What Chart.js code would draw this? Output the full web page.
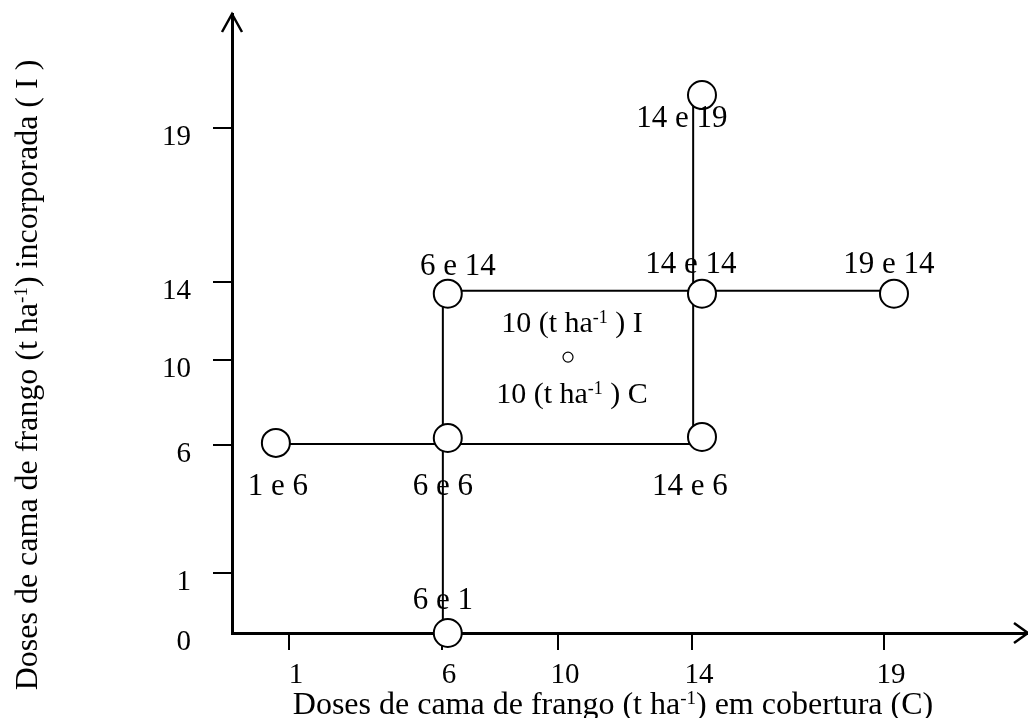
<!DOCTYPE html>
<html>
<head>
<meta charset="utf-8">
<script src="https://cdn.jsdelivr.net/npm/chart.js@4"></script>
<style>
  html, body { margin: 0; padding: 0; background: #fff; overflow: hidden; }
  #wrap { width: 1028px; height: 718px; position: relative; }
</style>
</head>
<body>
<div id="wrap"><canvas id="chart"></canvas></div>
<script>
/* ===== DATA ===== */
const ticksC = [1, 6, 10, 14, 19];
const ticksI = [0, 1, 6, 10, 14, 19];

const treatLabels = ["1 e 6", "6 e 6", "14 e 6", "6 e 14", "14 e 14", "19 e 14", "14 e 19", "6 e 1"];
const treatC = [0.77, 6.2, 14.26, 6.2, 14.26, 19.26, 14.26, 6.2];
const treatI = [6.1, 6.33, 6.38, 13.4, 13.4, 13.4, 20.07, 0];

const centreC = [10.3];
const centreI = [10.15];
const centreLabels = ["10 (t ha^{-1} ) I", "10 (t ha^{-1} ) C"];

// connecting lines, start/end of each segment
const segC = [[0.77, 14.26], [6.2, 19.26], [6.03, 6.03], [14.03, 14.03]];
const segI = [[6.05, 6.05], [13.55, 13.55], [13.4, 0], [20.07, 6.38]];

const titleC = "Doses de cama de frango (t ha^{-1}) em cobertura (C)";
const titleI = "Doses de cama de frango (t ha^{-1}) incorporada ( I )";

/* ===== SCALE (axis is drawn unevenly spaced in the figure) ===== */
class StepScale extends Chart.LinearScale {
  decimalFor(v) {
    const s = this.options.stops;
    let i = 1;
    while (i < s.length - 1 && v > s[i][0]) i++;
    const [v0, d0] = s[i - 1], [v1, d1] = s[i];
    return d0 + (v - v0) / (v1 - v0) * (d1 - d0);
  }
  getPixelForValue(v) {
    if (v === null || isNaN(v)) return NaN;
    return this.getPixelForDecimal(this.decimalFor(v));
  }
  getValueForPixel(p) {
    const d = this.getDecimalForPixel(p);
    const s = this.options.stops;
    let i = 1;
    while (i < s.length - 1 && d > s[i][1]) i++;
    const [v0, d0] = s[i - 1], [v1, d1] = s[i];
    return v0 + (d - d0) / (d1 - d0) * (v1 - v0);
  }
}
StepScale.id = "step";
StepScale.defaults = {};
Chart.register(StepScale);

const FONT = "'Liberation Serif', 'Times New Roman', serif";

// text with ^{...} superscripts
function richText(ctx, str, x, y, size, align) {
  const parts = str.split(/\^\{([^}]*)\}/);
  const sup = Math.round(size * 0.6);
  let w = 0;
  parts.forEach((p, i) => {
    ctx.font = (i % 2 ? sup : size) + "px " + FONT;
    w += ctx.measureText(p).width;
  });
  let cx = align === "center" ? x - w / 2 : x;
  ctx.textAlign = "left";
  ctx.textBaseline = "alphabetic";
  parts.forEach((p, i) => {
    const s = i % 2 === 1;
    ctx.font = (s ? sup : size) + "px " + FONT;
    ctx.fillText(p, cx, s ? y - size * 0.3 : y);
    cx += ctx.measureText(p).width;
  });
  return w;
}

const labelOffsets = [[2, 52], [-5, 57], [-12, 58], [10, -19], [-11, -21], [-5, -21], [-20, 32], [-5, -24]];

const noPad = s => { s.paddingTop = 0; s.paddingBottom = 0; s.paddingLeft = 0; s.paddingRight = 0; };

const decor = {
  id: "decor",
  afterDraw(chart) {
    const { ctx, chartArea: a, scales: { x, y } } = chart;
    ctx.save();
    ctx.fillStyle = "#000";
    ctx.strokeStyle = "#000";

    // arrow heads
    ctx.lineWidth = 2.5;
    ctx.beginPath();
    ctx.moveTo(a.left - 10, a.top + 18);
    ctx.lineTo(a.left, a.top);
    ctx.lineTo(a.left + 10, a.top + 18);
    ctx.moveTo(a.right - 14, a.bottom - 10);
    ctx.lineTo(a.right, a.bottom);
    ctx.lineTo(a.right - 14, a.bottom + 10);
    ctx.stroke();

    // point labels
    treatLabels.forEach((t, i) => {
      const px = x.getPixelForValue(treatC[i]) + labelOffsets[i][0];
      const py = y.getPixelForValue(treatI[i]) + labelOffsets[i][1];
      richText(ctx, t, px, py, 31, "center");
    });

    // centre point labels
    const cx = x.getPixelForValue(centreC[0]);
    const cy = y.getPixelForValue(centreI[0]);
    richText(ctx, centreLabels[0], cx + 4, cy - 25, 30, "center");
    richText(ctx, centreLabels[1], cx + 4, cy + 46, 30, "center");

    // axis titles
    richText(ctx, titleC, 613, 714, 32, "center");
    ctx.translate(37, 375);
    ctx.rotate(-Math.PI / 2);
    richText(ctx, titleI, 0, 0, 32, "center");
    ctx.restore();
  }
};

/* ===== DATASETS ===== */
const datasets = [
  {
    data: treatC.map((c, i) => ({ x: c, y: treatI[i] })),
    pointRadius: 14,
    pointBackgroundColor: "#fff",
    pointBorderColor: "#000",
    pointBorderWidth: 2,
    clip: false
  },
  {
    data: centreC.map((c, i) => ({ x: c, y: centreI[i] })),
    pointRadius: 5,
    pointBackgroundColor: "#fff",
    pointBorderColor: "#000",
    pointBorderWidth: 1.2,
    clip: false
  }
];
segC.forEach((s, i) => {
  datasets.push({
    data: s.map((c, j) => ({ x: c, y: segI[i][j] })),
    showLine: true,
    borderColor: "#000",
    borderWidth: 2,
    pointRadius: 0,
    clip: false
  });
});

new Chart(document.getElementById("chart"), {
  type: "scatter",
  data: { datasets },
  options: {
    responsive: true,
    maintainAspectRatio: false,
    animation: false,
    layout: { autoPadding: false, padding: { top: 14, right: 0, left: 0, bottom: 0 } },
    plugins: { legend: { display: false }, tooltip: { enabled: false } },
    scales: {
      x: {
        type: "step",
        min: 0,
        max: 22.75,
        stops: [[0, 0], [1, 0.0716], [6, 0.2638], [10, 0.4095], [14, 0.5779], [19, 0.8191], [22.75, 1]],
        afterBuildTicks: s => { s.ticks = ticksC.map(v => ({ value: v })); },
        afterFit: s => { s.height = 85; noPad(s); },
        border: { display: true, color: "#000", width: 3 },
        grid: { drawOnChartArea: false, drawTicks: true, tickLength: 17, color: "#000", lineWidth: 2 },
        ticks: {
          callback: v => String(v),
          color: "#000",
          font: { family: FONT, size: 29 },
          padding: 8,
          labelOffset: 7,
          maxRotation: 0,
          autoSkip: false
        }
      },
      y: {
        type: "step",
        min: 0,
        max: 22.7,
        stops: [[0, 0], [1, 0.0969], [6, 0.3037], [10, 0.441], [14, 0.567], [19, 0.8158], [22.7, 1]],
        afterBuildTicks: s => { s.ticks = ticksI.map(v => ({ value: v })); },
        afterFit: s => { s.width = 232; noPad(s); },
        border: { display: true, color: "#000", width: 3 },
        grid: {
          drawOnChartArea: false,
          drawTicks: true,
          tickLength: 19,
          lineWidth: 2,
          color: c => (c.tick && c.tick.value === 0 ? "rgba(0,0,0,0)" : "#000")
        },
        ticks: {
          callback: v => String(v),
          color: "#000",
          font: { family: FONT, size: 29 },
          padding: 22,
          labelOffset: 9,
          autoSkip: false
        }
      }
    }
  },
  plugins: [decor]
});
</script>
</body>
</html>
